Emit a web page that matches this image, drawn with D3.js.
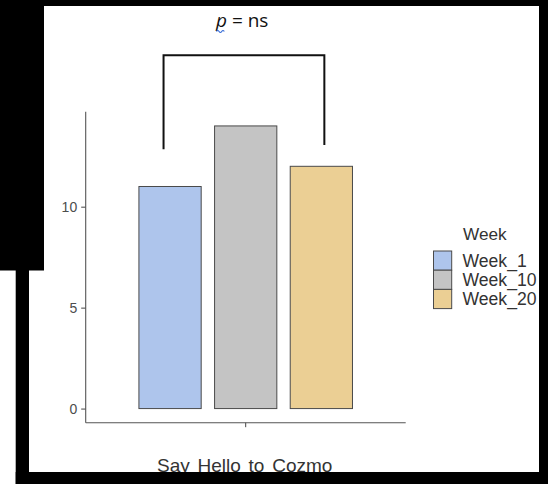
<!DOCTYPE html>
<html><head><meta charset="utf-8">
<script src="https://cdn.jsdelivr.net/npm/d3@7"></script>
<style>html,body{margin:0;padding:0;background:#fff;}svg{display:block;}</style>
</head><body>
<svg id="chart" width="548" height="484"></svg>
<script>
const categories = ["Say Hello to Cozmo"];
const weeks = ["Week_1", "Week_10", "Week_20"];
const values = [11, 14, 12];
const colors = ["#aec5ec", "#c4c4c4", "#ebcf94"];
const yTicks = [0, 5, 10];
const legendTitle = "Week";
const pLabel = "ns";

const svg = d3.select("#chart");
const W = 548, H = 484;
svg.append("rect").attr("width", W).attr("height", H).attr("fill", "#fff");

const plotL = 85.7, plotR = 405.7, plotT = 111.8, plotB = 422.7;
const y = d3.scaleLinear().domain([-0.7, 14.7]).range([plotB, plotT]);
const x0 = d3.scaleBand().domain(categories).range([plotL, plotR]).paddingInner(0).paddingOuter(0.205);
const x1 = d3.scaleBand().domain(weeks).range([0, x0.bandwidth()]).paddingInner(0.177).paddingOuter(0.0885);
const color = d3.scaleOrdinal().domain(weeks).range(colors);

const font = "'Liberation Sans', Arial, Helvetica, sans-serif";

// bars
const g = svg.append("g");
categories.forEach(c => {
  g.selectAll("rect.bar").data(weeks.map((w, i) => ({w, v: values[i]}))).enter()
    .append("rect").attr("class", "bar")
    .attr("x", d => x0(c) + x1(d.w))
    .attr("y", d => y(d.v))
    .attr("width", x1.bandwidth())
    .attr("height", d => y(0) - y(d.v))
    .attr("fill", d => color(d.w))
    .attr("stroke", "#4a4a4a").attr("stroke-width", 1);
});

// axes
const yAxis = d3.axisLeft(y).tickValues(yTicks).tickSize(4.5).tickPadding(4);
const ya = svg.append("g").attr("transform", `translate(${plotL},0)`).call(yAxis);
ya.select(".domain").remove();
ya.selectAll("line").attr("stroke", "#444");
ya.selectAll("text").attr("font-family", font).attr("font-size", 14).attr("fill", "#4d4d4d");
svg.append("line").attr("x1", plotL).attr("x2", plotL).attr("y1", plotT).attr("y2", plotB)
  .attr("stroke", "#555").attr("stroke-width", 1.1);

const xAxis = d3.axisBottom(x0).tickSize(4.5).tickFormat("");
const xa = svg.append("g").attr("transform", `translate(0,${plotB})`).call(xAxis);
xa.select(".domain").remove();
xa.selectAll("line").attr("stroke", "#444");
svg.append("line").attr("x1", plotL).attr("x2", plotR).attr("y1", plotB).attr("y2", plotB)
  .attr("stroke", "#555").attr("stroke-width", 1.1);

// x label
svg.append("text").attr("x", x0(categories[0]) + x0.bandwidth() / 2 - 1).attr("y", 472)
  .attr("text-anchor", "middle").attr("font-family", font).attr("font-size", 19)
  .attr("word-spacing", 2.5).attr("fill", "#333").text(categories[0]);

// bracket
const cx = w => x0(categories[0]) + x1(w) + x1.bandwidth() / 2;
const bl = cx(weeks[0]) - 6.5, br = cx(weeks[2]) + 3;
svg.append("path")
  .attr("d", `M${bl},${y(12.85)}V${y(17.5)}H${br}V${y(13.05)}`)
  .attr("fill", "none").attr("stroke", "#111").attr("stroke-width", 2);

// p = ns
const pt = svg.append("text").attr("x", 216).attr("y", 26.7)
  .attr("font-family", "'Open Sans', 'Noto Sans', sans-serif").attr("font-size", 19).attr("fill", "#111");
pt.append("tspan").attr("font-style", "italic").text("p");
pt.append("tspan").text(" = " + pLabel);
svg.append("path").attr("d", "M216.5,31.5 q1.3,-2 2.6,0 t2.6,0 t2.6,0")
  .attr("fill", "none").attr("stroke", "#3a6fd8").attr("stroke-width", 1.2);

// legend
const lg = svg.append("g");
lg.append("text").attr("x", 463).attr("y", 240).attr("font-family", font).attr("font-size", 17.2)
  .attr("fill", "#333").text(legendTitle);
const keyX = 433.5, keyY0 = 251, keyW = 18.2, keyH = 19.2;
weeks.forEach((w, i) => {
  lg.append("rect").attr("x", keyX).attr("y", keyY0 + i * keyH).attr("width", keyW).attr("height", keyH)
    .attr("fill", color(w)).attr("stroke", "#4a4a4a").attr("stroke-width", 1);
  lg.append("text").attr("x", 462.5).attr("y", keyY0 + i * keyH + keyH / 2 + 6.2)
    .attr("font-family", font).attr("font-size", 17.6).attr("fill", "#333").text(w);
});

// black screen borders
const frame = svg.append("g").attr("fill", "#000");
frame.append("rect").attr("x", 0).attr("y", 0).attr("width", W).attr("height", 6);
frame.append("rect").attr("x", 0).attr("y", 0).attr("width", 44).attr("height", 270.5);
frame.append("rect").attr("x", 15.7).attr("y", 0).attr("width", 13.3).attr("height", H);
frame.append("rect").attr("x", 15.7).attr("y", 472).attr("width", W - 15.7).attr("height", 12);
frame.append("rect").attr("x", 539).attr("y", 0).attr("width", 9).attr("height", H);
</script>
</body></html>
